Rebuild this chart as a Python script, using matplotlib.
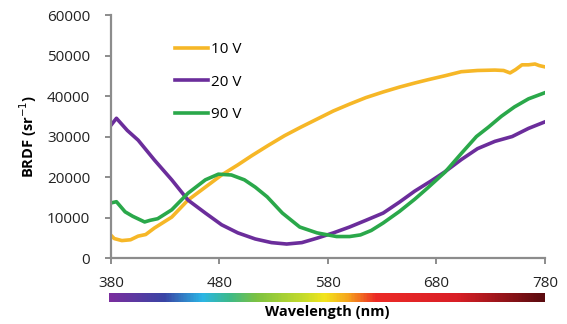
import matplotlib.pyplot as plt
import numpy as np
from matplotlib.colors import LinearSegmentedColormap

plt.rcParams['font.family'] = ['Open Sans', 'DejaVu Sans']

# 10 V
wl_10 = [380, 383, 390, 398, 405, 412, 420, 436, 451, 467, 482, 497, 510, 525, 540, 555,
         570, 585, 600, 615, 631, 646, 660, 672, 688, 703, 718, 734, 742, 748, 753, 759,
         765, 771, 775, 780]
brdf_10 = [5600, 4800, 4300, 4500, 5400, 5800, 7400, 10100, 14300, 17500, 20500, 23000,
           25300, 27800, 30200, 32300, 34300, 36300, 38000, 39600, 41000, 42200, 43200,
           44000, 45000, 46000, 46300, 46400, 46300, 45700, 46500, 47700, 47700, 47900,
           47500, 47200]

# 20 V
wl_20 = [380, 385, 390, 395, 405, 420, 436, 451, 467, 482, 497, 513, 528, 542, 556, 570,
         585, 600, 615, 631, 646, 660, 675, 688, 703, 718, 734, 750, 765, 780]
brdf_20 = [32800, 34500, 33000, 31500, 29100, 24200, 19300, 14300, 11100, 8200, 6200, 4700,
           3800, 3450, 3800, 4900, 6200, 7650, 9300, 11100, 13800, 16500, 19000, 21300,
           24300, 27000, 28800, 30000, 32000, 33600]

# 90 V
wl_90 = [380, 385, 393, 400, 411, 416, 423, 436, 451, 467, 479, 491, 503, 513, 524, 538,
         554, 570, 588, 600, 610, 620, 631, 646, 660, 672, 688, 703, 717, 728, 740, 752,
         765, 780]
brdf_90 = [13600, 13900, 11400, 10300, 8900, 9300, 9700, 11900, 16000, 19300, 20700, 20500,
           19300, 17500, 15100, 11100, 7650, 6200, 5300, 5300, 5700, 6800, 8650, 11500,
           14500, 17300, 21200, 25800, 30000, 32300, 35000, 37300, 39300, 40800]

spectrum_nm = [380, 430, 465, 490, 515, 560, 578, 600, 625, 700, 780]
spectrum_col = ['#7a2e9e', '#3a45a5', '#2bb6e6', '#3dba8a', '#7cc242', '#c8dc2a',
                '#f3e51c', '#f6a21e', '#ec2a26', '#d91f26', '#5a0b0f']

fig = plt.figure(figsize=(5.67, 3.24), dpi=100)
ax = fig.add_axes([0.1958, 0.2037, 0.765, 0.75])

ax.plot(wl_10, brdf_10, color='#f6b727', lw=2.6, label='10 V')
ax.plot(wl_20, brdf_20, color='#6b2d9b', lw=2.6, label='20 V')
ax.plot(wl_90, brdf_90, color='#2aa84a', lw=2.6, label='90 V')

ax.set_xlim(380, 780)
ax.set_ylim(0, 60000)
ax.set_xticks([380, 480, 580, 680, 780])
ax.set_yticks(range(0, 60001, 10000))
for s in ['top', 'right']:
    ax.spines[s].set_visible(False)
for s in ['left', 'bottom']:
    ax.spines[s].set_color('#8c8c8c')
    ax.spines[s].set_linewidth(1.6)
ax.tick_params(axis='both', colors='#8c8c8c', labelcolor='#222222', labelsize=11,
               width=1.4, length=4)
ax.tick_params(axis='x', pad=9)
ax.tick_params(axis='y', pad=11)
ax.set_ylabel('BRDF (sr$^{-1}$)', fontsize=10.5, fontweight='bold', labelpad=6)

ax.legend(loc='upper left', bbox_to_anchor=(0.115, 0.945), frameon=False, fontsize=11,
          handlelength=2.2, handletextpad=0.15, labelspacing=1.15)

# wavelength colour bar
cmap = LinearSegmentedColormap.from_list(
    'spec', [((n - 380) / 400, c) for n, c in zip(spectrum_nm, spectrum_col)])
cax = fig.add_axes([109 / 567, 1 - 302 / 324, 436 / 567, 9 / 324])
cax.imshow(np.linspace(0, 1, 400)[None, :], cmap=cmap, aspect='auto',
           extent=[380, 780, 0, 1])
cax.axis('off')
fig.text(327 / 567, 1 - 312 / 324, 'Wavelength (nm)', ha='center', va='center',
         fontsize=10.5, fontweight='bold')

fig.savefig('out.png', dpi=100)
